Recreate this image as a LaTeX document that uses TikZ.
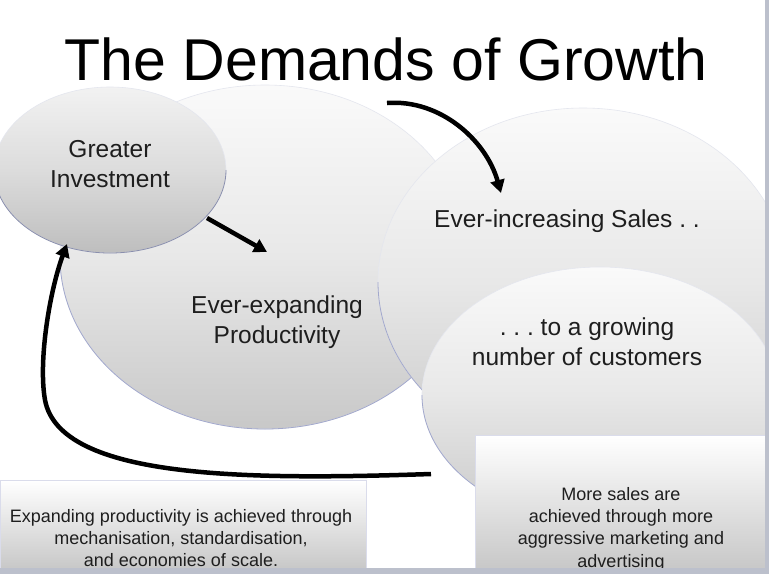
\documentclass[tikz,border=0pt]{standalone}
\usepackage{fontspec}
\setmainfont{Liberation Sans}
\frenchspacing
\usetikzlibrary{shapes.geometric,arrows.meta}
\definecolor{edgeblue}{HTML}{A2A8CC}
\definecolor{faintedge}{HTML}{E4E6EE}
\definecolor{blobtop}{HTML}{FAFAFA}
\definecolor{blobmid}{HTML}{E8E8E8}
\definecolor{blobbot}{HTML}{C8C8C8}
\definecolor{invtop}{HTML}{F2F2F2}
\definecolor{invmid}{HTML}{DCDCDC}
\definecolor{invbot}{HTML}{BEBEBE}
\definecolor{boxbot}{HTML}{C8C8C8}
\definecolor{stripcol}{HTML}{BCC0CC}
\definecolor{inkcol}{HTML}{1E1E1E}
\begin{document}
\begin{tikzpicture}[x=1pt,y=-1pt,
  blob/.style={ellipse, draw=faintedge, line width=0.6pt, inner sep=0pt, top color=blobtop, bottom color=blobbot, middle color=blobmid},
  rim/.style={draw=edgeblue, line width=0.8pt},
  panel/.style={rectangle, draw=edgeblue!40, line width=0.5pt, inner sep=0pt, anchor=north west, top color=white, bottom color=boxbot},
  lbl/.style={align=center, font=\fontsize{24.5}{30}\selectfont\frenchspacing, text=inkcol, inner sep=0pt},
  note/.style={align=center, font=\fontsize{18}{22.3}\selectfont, text=inkcol, inner sep=0pt},
  flow/.style={draw=black, line width=4.5pt, -{Triangle[length=13pt,width=14pt]}},
]
\useasboundingbox (0,0) rectangle (769,574);
\clip (0,0) rectangle (769,574);
\fill[white] (0,0) rectangle (769,574);

% title
\node[font=\fontsize{59}{59}\selectfont, text=black, inner sep=0pt, anchor=base] (title) at (386,80) {The Demands of Growth};

% ellipses, each with a bluish rim on its lower half
\node[blob, minimum width=410pt, minimum height=344pt] (prod) at (265,257) {};
\begin{scope}
  \clip (0,257) rectangle (769,574);
  \draw[rim] (265,257) ellipse [x radius=205, y radius=172];
\end{scope}
\node[blob, minimum width=232pt, minimum height=166pt, top color=invtop, bottom color=invbot, middle color=invmid] (inv) at (110,170) {};
\begin{scope}
  \clip (0,170) rectangle (769,574);
  \draw[rim, draw=edgeblue!85!black] (110,170) ellipse [x radius=116, y radius=83];
\end{scope}
\node[blob, minimum width=410pt, minimum height=348pt] (sales) at (583,282) {};
\begin{scope}
  \clip (0,282) rectangle (769,574);
  \draw[rim] (583,282) ellipse [x radius=205, y radius=174];
\end{scope}
\node[blob, minimum width=356pt, minimum height=256pt] (cust) at (600,395) {};
\begin{scope}
  \clip (0,395) rectangle (769,574);
  \draw[rim] (600,395) ellipse [x radius=178, y radius=128];
\end{scope}

% labels
\node[lbl] (invtxt) at (110,164) {Greater\\Investment};
\node[lbl] (prodtxt) at (277,322) {Ever-expanding\\Productivity};
\node[lbl] (salestxt) at (567,221) {Ever-increasing Sales . .};
\node[lbl] (custtxt) at (587,342) {. . . to a growing\\number of customers};

% panels
\node[panel, minimum width=366pt, minimum height=88pt] (leftpanel) at (0,480) {};
\node[panel, minimum width=292pt, minimum height=133pt] (rightpanel) at (475,435) {};
\node[note] (leftnote) at (181,538) {Expanding productivity is achieved through\\mechanisation, standardisation,\\and economies of scale.};
\node[note] (rightnote) at (621,529) {More sales are\\achieved through more\\aggressive marketing and\\advertising};

% connectors
\coordinate (a1s) at (387,103);
\coordinate (a1e) at (501,193);
\draw[flow] (a1s) .. controls (440,99) and (486,140) .. (a1e);
\coordinate (a2s) at (207,218);
\coordinate (a2e) at (267,252);
\draw[flow] (a2s) -- (a2e);
\coordinate (a3s) at (431,474);
\coordinate (a3m) at (45,400);
\coordinate (a3e) at (67,244);
\draw[flow] (a3s) .. controls (250,480) and (60,480) .. (a3m) .. controls (38,360) and (50,290) .. (a3e);

% slide frame strips
\fill[stripcol] (765,0) rectangle (769,574);
\fill[stripcol] (0,568) rectangle (769,574);
\end{tikzpicture}
\end{document}
